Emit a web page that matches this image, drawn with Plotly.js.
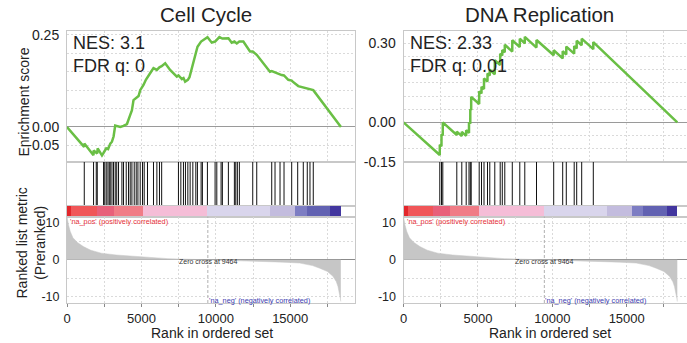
<!DOCTYPE html>
<html>
<head>
<meta charset="utf-8">
<script src="https://cdn.plot.ly/plotly-3.0.1.min.js"></script>
<style>
html,body{margin:0;padding:0;background:#fff;overflow:hidden;}
#chart{width:700px;height:343px;}
</style>
</head>
<body>
<div id="chart"></div>
<script>
// ---------------- DATA ----------------
const panelTitles = ["Cell Cycle", "DNA Replication"];
const nesText = ["NES: 3.1", "NES: 2.33"];
const fdrText = ["FDR q: 0", "FDR q: 0.01"];
const zeroCross = 9464;
const xTickVals = [0, 5000, 10000, 15000];
const xTickText = ["0", "5000", "10000", "15000"];

// Cell Cycle running enrichment score
const ccEsRank = [0,1150,1165,1780,1790,2030,2060,2350,2460,2640,2760,2910,3020,3130,3240,3350,3580,3800,4030,4250,4360,4470,4650,4810,4920,5140,5300,5480,5650,5810,6040,6210,6360,6600,6930,7380,7490,7720,7830,7940,8120,8230,8460,8660,8770,9010,9170,9440,9730,9950,10240,10440,10850,11070,11250,11410,11580,11850,12300,12480,12750,13190,13640,13760,13980,14320,14430,14580,14870,15100,15170,15540,15880,16000,16150,16330,16550,18410];
const ccEs = [0,-0.054,-0.045,-0.077,-0.064,-0.072,-0.058,-0.077,-0.070,-0.058,-0.060,-0.045,-0.040,-0.026,0.004,0.002,0.000,0.003,0.008,0.033,0.045,0.073,0.078,0.084,0.100,0.114,0.128,0.141,0.150,0.160,0.155,0.162,0.165,0.173,0.155,0.137,0.140,0.130,0.133,0.123,0.128,0.135,0.173,0.205,0.218,0.232,0.236,0.244,0.229,0.232,0.244,0.240,0.241,0.229,0.232,0.227,0.232,0.232,0.205,0.205,0.196,0.173,0.150,0.152,0.148,0.143,0.141,0.140,0.128,0.126,0.123,0.111,0.108,0.105,0.104,0.103,0.100,0];
// Cell Cycle hit positions
const ccHits = [1161,1785,1966,2033,2456,2537,2637,2752,2839,2906,3020,3127,3241,3342,3463,3691,3798,3980,4134,4248,4362,4517,4651,4765,4919,5073,5188,5409,5812,6040,6214,6362,7489,7651,7825,7959,8120,8275,8456,8657,8765,9013,9100,9436,9952,10067,10355,10442,10845,11248,11342,11449,11583,12482,12751,13758,13980,14315,14584,15100,15503,15879,16147,16328,16550];

// DNA Replication running enrichment score
const dnaEsRank = [0,2438,2439,2553,2554,2640,2641,3581,3582,3917,3918,4212,4213,4401,4402,4488,4489,4548,4549,5086,5087,5241,5242,5409,5410,5644,5645,5798,5799,6134,6135,6497,6498,6638,6639,6806,6807,7310,7311,7814,7815,8150,8151,8937,8938,10092,10093,10697,10698,10939,10940,11470,11471,11638,11639,11974,11975,12754,12755,18400];
const dnaEs = [0,-0.124,-0.085,-0.091,-0.045,-0.050,0.0,-0.048,-0.035,-0.052,-0.036,-0.051,-0.030,-0.040,0.0,-0.005,0.05,0.047,0.097,0.070,0.118,0.110,0.135,0.127,0.167,0.155,0.186,0.178,0.200,0.183,0.236,0.218,0.261,0.254,0.275,0.266,0.295,0.269,0.312,0.286,0.318,0.300,0.325,0.284,0.313,0.255,0.274,0.243,0.270,0.258,0.288,0.261,0.290,0.281,0.310,0.293,0.318,0.278,0.305,0];
// DNA Replication hit positions
const dnaHits = [2439,2554,2641,3582,3918,4213,4402,4489,4549,5087,5242,5410,5645,5799,6135,6498,6639,6807,7311,7815,8151,8938,10093,10698,10940,11471,11639,11975,12755];

// Ranked list metric (shared list)
const rankedX = [0,40,100,220,400,700,1100,1600,2300,3300,4550,5800,6800,8000,9464,11000,12500,13400,14500,15640,16500,16980,17500,17870,18100,18210,18300,18370,18400];
const rankedY = [11.8,10.6,9.5,7.7,6.0,4.7,3.6,2.6,1.8,1.3,0.9,0.6,0.3,0.15,0,-0.15,-0.35,-0.45,-0.65,-0.9,-1.6,-2.3,-3.2,-4.5,-6.0,-7.3,-8.8,-10.6,-11.4];

// Colour bar segments (rank boundaries and colours)
const segStart = [0,300,2000,3150,5100,9420,13650,15330,16100,17690];
const segEnd   = [300,2000,3150,5100,9420,13650,15330,16100,17690,18400];
const segColor = ["#e3262b","#f05658","#e8607a","#f07c86","#f5bdd7","#d9d5ec","#c3bcde","#7d7dc3","#6262b2","#42369f"];

// Y axis ticks
const esTickVals = [[-0.05,0,0.25],[-0.15,0,0.30]];
const esTickText = [["-0.05","0.00","0.25"],["-0.15","0.00","0.30"]];
const esRange = [[-0.0951,0.262],[-0.1505,0.349]];
const rankTickVals = [-10,0,10];
const rankTickText = ["-10","0","10"];

// ---------------- LAYOUT HELPERS ----------------
const W = 700, H = 343;
const FONT = "Liberation Sans, Arial, Helvetica, sans-serif";
const panelPx = [[67,355],[403.5,691.5]];
const rowPx = [[30.5,162],[162,206],[206,216.5],[216.5,303]];
const xMax = 19354;
const fx = p => p / W;
const fy = p => 1 - p / H;
const GRID = "#dadada";
const FRAME = "#c8c8c8";

const esData = [[ccEsRank, ccEs],[dnaEsRank, dnaEs]];
const hitData = [ccHits, dnaHits];

const traces = [];
const layout = {
  width: W, height: H,
  margin: {l:0,r:0,t:0,b:0},
  paper_bgcolor: "#fff", plot_bgcolor: "#fff",
  showlegend: false,
  bargap: 0,
  font: {family: FONT, color: "#222"},
  annotations: [], shapes: []
};

for (let p = 0; p < 2; p++) {
  for (let r = 0; r < 4; r++) {
    const i = p*4 + r + 1;
    const xa = "xaxis" + (i === 1 ? "" : i);
    const ya = "yaxis" + (i === 1 ? "" : i);
    const xid = "x" + (i === 1 ? "" : i);
    const yid = "y" + (i === 1 ? "" : i);
    const gridRow = (r === 0 || r === 3);
    layout[xa] = {
      domain: [fx(panelPx[p][0]), fx(panelPx[p][1])],
      anchor: yid, range: [0, xMax], fixedrange: true,
      showline: true, mirror: true, linecolor: FRAME, linewidth: 1,
      zeroline: false,
      showgrid: gridRow, gridcolor: GRID, griddash: "2px,2px", gridwidth: 1,
      tickmode: "array", tickvals: xTickVals, ticktext: xTickText,
      showticklabels: r === 3,
      ticks: r === 3 ? "outside" : "", ticklen: 3, tickcolor: "#888",
      tickfont: {size: 13, family: FONT, color: "#222"},
      ticklabelstandoff: 0,
      minor: gridRow ? {tickmode: "linear", tick0: 0, dtick: 2500, showgrid: true, gridcolor: GRID, griddash: "2px,2px", ticks: r === 3 ? "outside" : "", ticklen: 3, tickcolor: "#888"} : undefined
    };
    const yl = {
      domain: [fy(rowPx[r][1]), fy(rowPx[r][0])],
      anchor: xid, fixedrange: true,
      showline: true, mirror: true, linecolor: FRAME, linewidth: 1,
      ticks: "", ticklabelstandoff: 4
    };
    if (r === 0) {
      Object.assign(yl, {
        range: esRange[p], tickmode: "array", tickvals: esTickVals[p], ticktext: esTickText[p],
        tickfont: {size: 14, family: FONT, color: "#222"},
        showgrid: true, gridcolor: GRID, griddash: "2px,2px",
        zeroline: true, zerolinecolor: "#9a9a9a", zerolinewidth: 1,
        minor: {tickmode: "linear", tick0: 0, dtick: 0.05, showgrid: true, gridcolor: GRID, griddash: "2px,2px"}
      });
    } else if (r === 3) {
      Object.assign(yl, {
        range: [-11.8, 11.8], tickmode: "array", tickvals: rankTickVals, ticktext: rankTickText,
        tickfont: {size: 12.5, family: FONT, color: "#222"},
        showgrid: true, gridcolor: GRID, griddash: "2px,2px",
        zeroline: true, zerolinecolor: "#8a8a8a", zerolinewidth: 1,
        minor: {tickmode: "linear", tick0: 0, dtick: 5, showgrid: true, gridcolor: GRID, griddash: "2px,2px"}
      });
    } else {
      Object.assign(yl, {range: [0, 1], showticklabels: false, showgrid: false, zeroline: false});
    }
    layout[ya] = yl;

    if (r === 0) {
      traces.push({type: "scatter", mode: "lines", x: esData[p][0], y: esData[p][1],
        xaxis: xid, yaxis: yid, line: {color: "#6abf45", width: 2.5}, hoverinfo: "skip"});
    } else if (r === 1) {
      const hx = [], hy = [];
      hitData[p].forEach(h => { hx.push(h, h, null); hy.push(0, 1, null); });
      traces.push({type: "scatter", mode: "lines", x: hx, y: hy, xaxis: xid, yaxis: yid,
        line: {color: "#111", width: 1}, hoverinfo: "skip"});
    } else if (r === 2) {
      traces.push({type: "bar", x: segStart.map((s, k) => (s + segEnd[k]) / 2),
        width: segStart.map((s, k) => segEnd[k] - s), y: segStart.map(() => 1),
        xaxis: xid, yaxis: yid, marker: {color: segColor, line: {width: 0}}, hoverinfo: "skip"});
    } else {
      traces.push({type: "scatter", mode: "lines", x: rankedX, y: rankedY, fill: "tozeroy",
        fillcolor: "#c6c6c6", line: {color: "#c6c6c6", width: 0.5}, xaxis: xid, yaxis: yid, hoverinfo: "skip"});
      layout.shapes.push({type: "line", xref: xid, yref: yid + " domain", x0: zeroCross, x1: zeroCross, y0: 0, y1: 1,
        line: {color: "#b0b0b0", width: 1, dash: "3px,2px"}, layer: "above"});
      layout.annotations.push(
        {xref: xid, yref: yid, x: 0, y: 10.4, xshift: 1, xanchor: "left", yanchor: "middle", showarrow: false,
          text: "'na_pos' (positively correlated)", font: {size: 7.3, color: "#e8333c", family: FONT}},
        {xref: xid, yref: yid, x: zeroCross, y: -0.6, xanchor: "center", yanchor: "middle", showarrow: false,
          text: "Zero cross at " + zeroCross, font: {size: 7, color: "#333", family: FONT}},
        {xref: xid, yref: yid, x: 16450, y: -11.0, xanchor: "right", yanchor: "middle", showarrow: false,
          text: "'na_neg' (negatively correlated)", font: {size: 7.3, color: "#3b3bb0", family: FONT}}
      );
    }
  }
}

// Titles and texts (paper positions)
const titleX = [205.7, 539.7];
const nesX = [71, 408];
const xTitleX = [211.7, 549.7];
for (let p = 0; p < 2; p++) {
  layout.annotations.push(
    {xref: "paper", yref: "paper", x: fx(titleX[p]), y: fy(14), xanchor: "center", yanchor: "middle", showarrow: false,
      text: panelTitles[p], font: {size: 20.5, family: FONT, color: "#222"}},
    {xref: "paper", yref: "paper", x: fx(nesX[p]), y: fy(43), xanchor: "left", yanchor: "middle", showarrow: false,
      text: nesText[p], font: {size: 18, family: FONT, color: "#222"}},
    {xref: "paper", yref: "paper", x: fx(nesX[p]), y: fy(66), xanchor: "left", yanchor: "middle", showarrow: false,
      text: fdrText[p], font: {size: 18, family: FONT, color: "#222"}},
    {xref: "paper", yref: "paper", x: fx(xTitleX[p]), y: fy(333), xanchor: "center", yanchor: "middle", showarrow: false,
      text: "Rank in ordered set", font: {size: 14, family: FONT, color: "#222"}}
  );
}
layout.annotations.push(
  {xref: "paper", yref: "paper", x: fx(23), y: fy(102.5), xanchor: "center", yanchor: "middle", showarrow: false,
    textangle: -90, text: "Enrichment score", font: {size: 14, family: FONT, color: "#222"}},
  {xref: "paper", yref: "paper", x: fx(30.5), y: fy(243), xanchor: "center", yanchor: "middle", showarrow: false,
    textangle: -90, text: "Ranked list metric<br>(Preranked)", font: {size: 14, family: FONT, color: "#222"}}
);

Plotly.newPlot("chart", traces, layout, {staticPlot: true, displayModeBar: false});
</script>
</body>
</html>
